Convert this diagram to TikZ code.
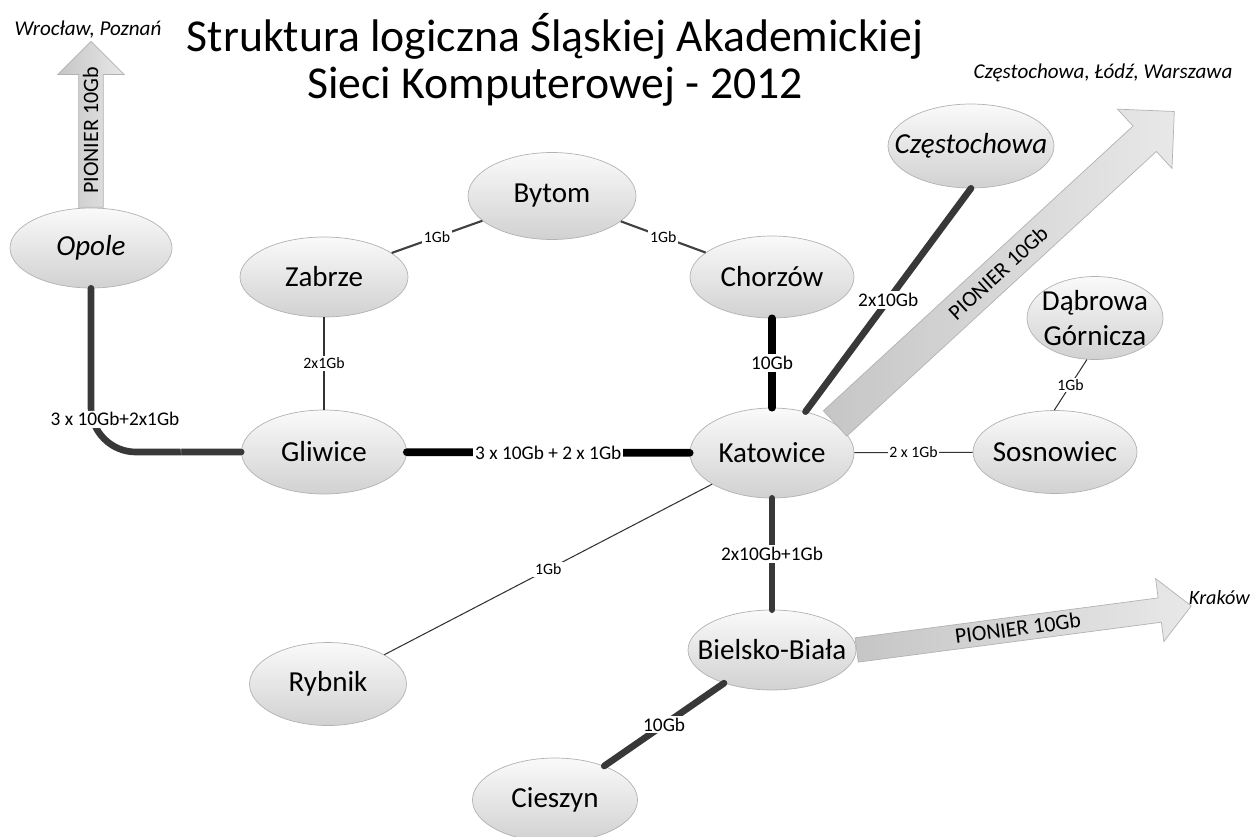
\documentclass[tikz,border=0pt]{standalone}
\usepackage{fontspec}
\setmainfont{Carlito}
\usetikzlibrary{shapes.geometric,shapes.arrows}

\begin{document}
\begin{tikzpicture}[
  x=0.02cm, y=-0.02cm,
  city/.style={ellipse, draw=gray!60, top color=gray!4, bottom color=gray!36, minimum width=3.3cm, minimum height=1.64cm, inner xsep=-0.4cm, inner ysep=0pt, align=center, font=\fontsize{16.5}{20}\selectfont},
  itcity/.style={city, font=\fontsize{16.5}{20}\selectfont\itshape},
  thin link/.style={draw=black!80, line width=0.6pt},
  mid link/.style={draw=black!75, line width=1.2pt},
  fat link/.style={draw=black!78, line width=3.8pt, line cap=round},
  black link/.style={draw=black, line width=4.4pt, line cap=round},
  lbl/.style={fill=white, inner sep=1pt, font=\fontsize{11}{13}\selectfont},
  slbl/.style={fill=white, inner sep=1pt, font=\fontsize{9}{11}\selectfont},
  pionier/.style={single arrow, draw=gray!60, left color=gray!45, right color=gray!18, text height=8.5pt, text depth=0.5pt, font=\fontsize{12.5}{14}\selectfont, anchor=tail},
  dest/.style={font=\fontsize{12}{14}\selectfont\itshape}
]
\useasboundingbox (0,0) rectangle (1258,836);

\node[font=\fontsize{26}{27}\selectfont, align=center] (title) at (555,60) {Struktura logiczna Śląskiej Akademickiej\\Sieci Komputerowej - 2012};

% miasta
\node[itcity, minimum width=3.24cm, minimum height=1.6cm] (opole) at (91,248) {Opole};
\node[city, minimum width=3.36cm, minimum height=1.74cm] (bytom) at (552,196) {Bytom};
\node[city, minimum width=3.36cm, minimum height=1.6cm] (zabrze) at (324,277) {Zabrze};
\node[city, minimum width=3.28cm] (chorzow) at (772,277) {Chorzów};
\node[itcity, minimum width=3.32cm, minimum height=1.68cm] (czest) at (971,146) {Częstochowa};
\node[city, minimum height=1.68cm] (gliwice) at (324,452) {Gliwice};
\node[city, minimum width=3.28cm, minimum height=1.8cm] (katowice) at (772,453) {Katowice};
\node[city, minimum width=2.72cm, minimum height=1.66cm] (dabrowa) at (1095,318) {Dąbrowa\\Górnicza};
\node[city, minimum width=3.28cm, minimum height=1.66cm] (sosnowiec) at (1055,452) {Sosnowiec};
\node[city, minimum width=3.14cm, minimum height=1.66cm] (rybnik) at (328,684) {Rybnik};
\node[city, minimum width=3.36cm, minimum height=1.6cm] (bielsko) at (772,650) {Bielsko-Biała};
\node[city, minimum height=1.68cm] (cieszyn) at (555,800) {Cieszyn};

% PIONIER
\node[pionier, rotate=90, minimum height=3.32cm, inner ysep=0.08cm, single arrow head extend=0.42cm] (upwest) at (opole.north) {PIONIER 10Gb};
\node[pionier, rotate=42.6, minimum height=9.22cm, inner ysep=0.18cm, single arrow head extend=0.46cm] (upeast) at (katowice.25) {PIONIER 10Gb};
\node[pionier, rotate=7.5, minimum height=6.75cm, inner ysep=0.08cm, single arrow head extend=0.39cm] (toeast) at (bielsko.east) {PIONIER 10Gb};
\node[dest] (wroclaw) at (88,30) {Wrocław, Poznań};
\node[dest] (warszawa) at (1103,73) {Częstochowa, Łódź, Warszawa};
\node[dest, font=\fontsize{11.5}{14}\selectfont\itshape, anchor=east] (krakow) at (1256,598) {Kraków};

% polaczenia
\draw[fat link, rounded corners=0.9cm] (opole.south) |- node[lbl, pos=0.4, xshift=0.48cm] {3 x 10Gb+2x1Gb} (gliwice.west);
\draw[black link] (gliwice) -- node[lbl] {3 x 10Gb + 2 x 1Gb} (katowice);
\draw[thin link] (zabrze) -- node[slbl] {2x1Gb} (gliwice);
\draw[mid link] (zabrze) -- node[slbl] {1Gb} (bytom);
\draw[mid link] (bytom) -- node[slbl] {1Gb} (chorzow);
\draw[black link] (chorzow) -- node[lbl] {10Gb} (katowice);
\draw[fat link] (czest.south) -- node[lbl] {2x10Gb} (katowice.51);
\draw[thin link] (katowice) -- node[slbl] {2 x 1Gb} (sosnowiec);
\draw[thin link] (dabrowa.-101) -- node[slbl] {1Gb} (sosnowiec.91);
\draw[thin link] (katowice) -- node[slbl] {1Gb} (rybnik);
\draw[fat link] (katowice) -- node[lbl] {2x10Gb+1Gb} (bielsko);
\draw[fat link] (bielsko) -- node[lbl] {10Gb} (cieszyn);
\end{tikzpicture}
\end{document}
